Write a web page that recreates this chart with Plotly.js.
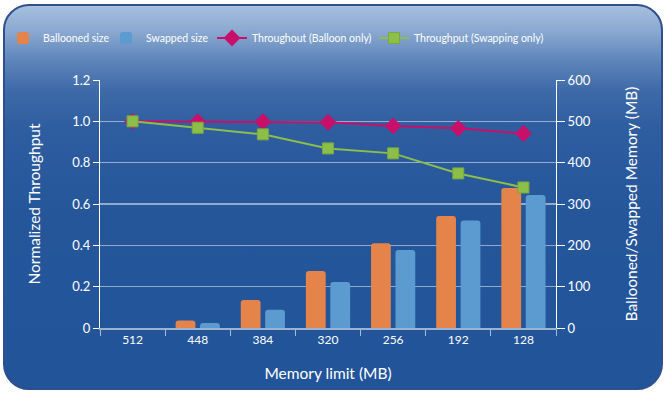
<!DOCTYPE html>
<html><head><meta charset="utf-8">
<script src="https://cdn.plot.ly/plotly-3.0.1.min.js"></script>
<style>
html,body{margin:0;padding:0;background:#fff;width:666px;height:393px;overflow:hidden}
#card{position:absolute;left:3px;top:4px;width:656px;height:382px;border:2px solid #2f4f8e;border-radius:26px;
background:linear-gradient(180deg,#a6bfdd 0%,#88a7d0 7%,#5f86bb 14%,#3e6aa8 22%,#2e5da0 32%,#25569a 55%,#22549a 100%);}
#chart{position:absolute;left:0;top:0;width:666px;height:393px}
</style></head><body>
<div id="card"></div>
<div id="chart"></div>
<script>
const categories = ['512','448','384','320','256','192','128'];
const balloonedSize = [0, 18, 68, 138, 205, 271, 339];
const swappedSize = [0, 12, 44, 111, 189, 260, 322];
const throughputBalloon = [1.0, 0.998, 0.998, 0.995, 0.978, 0.966, 0.941];
const throughputSwapping = [1.0, 0.969, 0.937, 0.869, 0.845, 0.748, 0.680];
const leftTickVals = [0, 0.2, 0.4, 0.6, 0.8, 1.0, 1.2];
const leftTickText = ['0', '0.2', '0.4', '0.6', '0.8', '1.0', '1.2'];
const rightTickVals = [0, 100, 200, 300, 400, 500, 600];

const font = 'Lato, "Open Sans", sans-serif';
const traces = [
  {type:'bar', name:'Ballooned size', x:categories, y:balloonedSize, yaxis:'y', legend:'legend',
   marker:{color:'#e4834a', line:{width:0}}},
  {type:'bar', name:'Swapped size', x:categories, y:swappedSize, yaxis:'y', legend:'legend2',
   marker:{color:'#5b9bcf', line:{width:0}}},
  {type:'scatter', mode:'lines+markers', name:'Throughout (Balloon only)', x:categories, y:throughputBalloon, yaxis:'y2', legend:'legend3',
   line:{color:'#c8106a', width:2}, marker:{symbol:'diamond', size:13, color:'#c8106a'}},
  {type:'scatter', mode:'lines+markers', name:'Throughput (Swapping only)', x:categories, y:throughputSwapping, yaxis:'y2', legend:'legend4',
   line:{color:'#8cbf4a', width:2}, marker:{symbol:'square', size:11, color:'#8cbf4a', line:{color:'#7aa83e', width:1}}}
];
function leg(px){
  return {orientation:'h', xref:'container', yref:'container', x:px/666, y:1-38/393, xanchor:'left', yanchor:'middle',
          font:{family:font, size:10.5, color:'#fff'}, bgcolor:'rgba(0,0,0,0)', borderwidth:0, itemwidth:30};
}
const layout = {
  width:666, height:393,
  paper_bgcolor:'rgba(0,0,0,0)', plot_bgcolor:'rgba(0,0,0,0)',
  margin:{l:100, r:110, t:80, b:65},
  font:{family:font, color:'#ffffff', size:12},
  barmode:'group', bargap:0.25, bargroupgap:0.19, barcornerradius:3,
  showlegend:true,
  legend:leg(3), legend2:leg(106), legend3:leg(212), legend4:leg(374),
  xaxis:{type:'category', range:[-0.5,6.5], tickson:'boundaries', ticks:'outside', ticklen:6, tickcolor:'rgba(255,255,255,0.6)',
         showline:true, linecolor:'rgba(255,255,255,0.55)', linewidth:2, showgrid:false, zeroline:false,
         tickfont:{size:12, color:'#fff'},
         title:{text:'Memory limit (MB)', font:{size:15.5, color:'#fff'}, standoff:22}},
  yaxis:{side:'right', range:[0,600], tickvals:rightTickVals, ticks:'outside', ticklen:8, tickcolor:'#fff',
         showline:true, linecolor:'#fff', linewidth:1, showgrid:true, gridcolor:'rgba(255,255,255,0.5)', gridwidth:1.5, zeroline:false,
         tickfont:{size:13, color:'#fff'},
         title:{text:'Ballooned/Swapped Memory (MB)', font:{size:15.5, color:'#fff'}, standoff:36}},
  yaxis2:{overlaying:'y', side:'left', range:[0,1.2], tickvals:leftTickVals, ticktext:leftTickText, ticks:'outside', ticklen:6, tickcolor:'#fff',
          showline:true, linecolor:'#fff', linewidth:1, showgrid:false, zeroline:false,
          tickfont:{size:13, color:'#fff'},
          title:{text:'Normalized Throughput', font:{size:15.5, color:'#fff'}, standoff:27}}
};
Plotly.newPlot('chart', traces, layout, {displayModeBar:false, staticPlot:true});
</script>
</body></html>
